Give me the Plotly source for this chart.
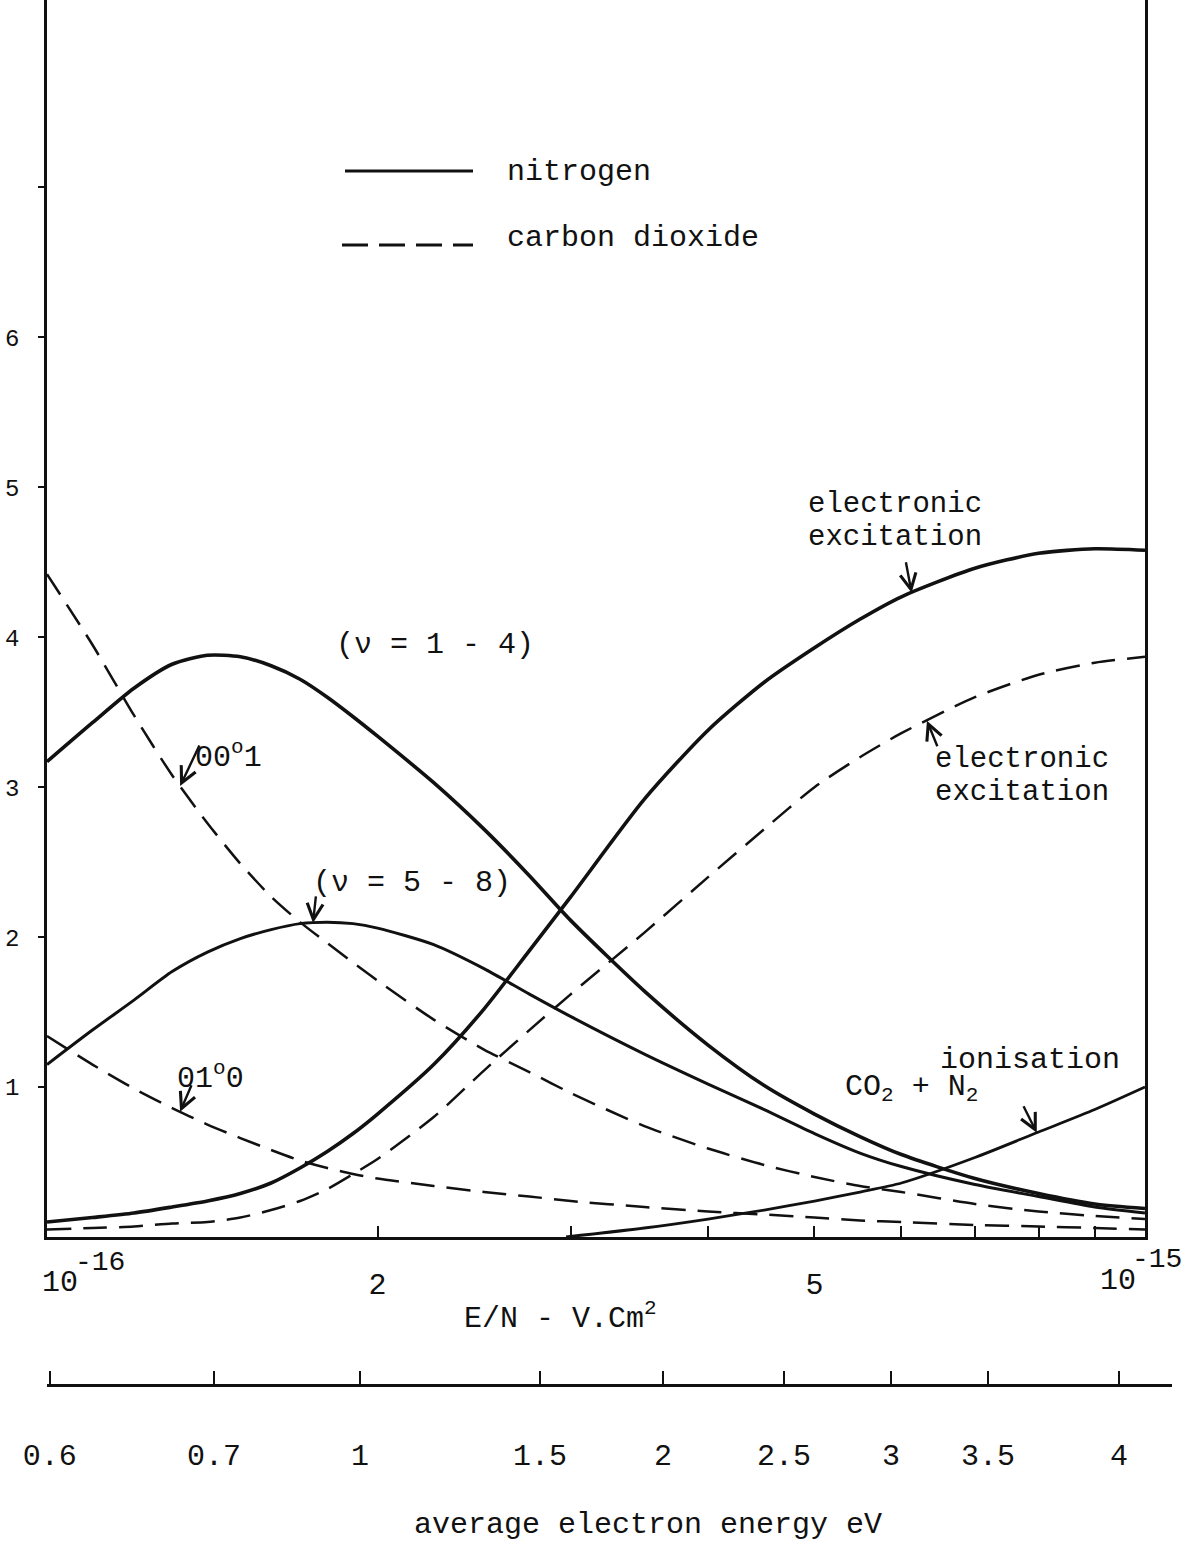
import math
import numpy as np
import plotly.graph_objects as go

# E/N values, in units of 1e-16 V.cm^2
EN = [1.0, 1.1, 1.2, 1.3, 1.4, 1.5, 1.6, 1.7, 1.8, 1.9, 2.0, 2.25, 2.5, 2.75,
      3.0, 3.5, 4.0, 4.5, 5.0, 5.5, 6.0, 7.0, 8.0, 9.0, 10.0]

# nitrogen (solid)
n2_v1_4 = [3.17, 3.43, 3.66, 3.82, 3.88, 3.87, 3.81, 3.72, 3.60, 3.47, 3.34, 3.03, 2.72, 2.41,
           2.11, 1.64, 1.28, 1.01, 0.82, 0.67, 0.55, 0.39, 0.29, 0.22, 0.19]
n2_v5_8 = [1.15, 1.38, 1.58, 1.77, 1.90, 1.99, 2.05, 2.09, 2.10, 2.09, 2.06, 1.95, 1.79, 1.62,
           1.47, 1.22, 1.02, 0.85, 0.69, 0.56, 0.47, 0.35, 0.27, 0.20, 0.16]
n2_elec = [0.10, 0.13, 0.16, 0.20, 0.24, 0.29, 0.36, 0.46, 0.57, 0.69, 0.82, 1.15, 1.52, 1.91,
           2.27, 2.92, 3.38, 3.70, 3.93, 4.12, 4.27, 4.46, 4.56, 4.59, 4.58]

# carbon dioxide (dashed)
co2_0001 = [4.42, 3.95, 3.48, 3.08, 2.76, 2.49, 2.27, 2.10, 1.96, 1.83, 1.71, 1.45, 1.25, 1.10,
            0.96, 0.74, 0.59, 0.48, 0.40, 0.34, 0.30, 0.22, 0.17, 0.14, 0.12]
co2_0110 = [1.34, 1.15, 0.99, 0.86, 0.75, 0.66, 0.58, 0.51, 0.46, 0.42, 0.39, 0.34, 0.30, 0.27,
            0.24, 0.20, 0.17, 0.15, 0.13, 0.11, 0.10, 0.08, 0.07, 0.06, 0.05]
co2_elec = [0.05, 0.06, 0.07, 0.09, 0.10, 0.13, 0.18, 0.24, 0.32, 0.42, 0.52, 0.80, 1.11, 1.38,
            1.62, 2.03, 2.40, 2.72, 3.00, 3.20, 3.36, 3.60, 3.75, 3.83, 3.87]

# ionisation CO2 + N2 (solid)
ion_EN = [2.97, 3.5, 4.0, 4.5, 5.0, 5.5, 6.0, 7.0, 8.0, 9.0, 10.0]
ion = [0.0, 0.06, 0.12, 0.18, 0.24, 0.30, 0.36, 0.53, 0.70, 0.85, 1.0]

# secondary scale: average electron energy (eV) vs E/N position (units 1e-16)
energy_labels = ["0.6", "0.7", "1", "1.5", "2", "2.5", "3", "3.5", "4"]
energy_EN = [1.006, 1.419, 1.928, 2.812, 3.639, 4.691, 5.870, 7.195, 9.469]

y_tickvals = [1, 2, 3, 4, 5, 6, 7]
y_ticktext = ["1", "2", "3", "4", "5", "6", ""]
x_minor = [2, 3, 4, 5, 6, 7, 8, 9]
x_minor_text = ["2", "", "", "5", "", "", "", ""]

SCALE = 1e-16
FONT = "Liberation Mono, Courier New, monospace"
BLACK = "#111111"

W, H = 1201, 1546
ML, MR = 47, 29
PW = W - ML - MR
XDOM = 1098 / PW
YBOT = 1237

fig = go.Figure()


def add_line(xs, ys, dash, width):
    fig.add_trace(go.Scatter(
        x=[v * SCALE for v in xs], y=ys, mode="lines",
        line=dict(color=BLACK, width=width, dash=dash, shape="spline", smoothing=0.7),
        showlegend=False, hoverinfo="skip"))


DASH = "24px,12px"
add_line(EN, n2_v1_4, "solid", 3.6)
add_line(EN, n2_v5_8, "solid", 3.0)
add_line(EN, n2_elec, "solid", 3.6)
add_line(EN, co2_0001, DASH, 2.5)
add_line(EN, co2_0110, DASH, 2.5)
add_line(EN, co2_elec, DASH, 2.5)
add_line(ion_EN, ion, "solid", 2.8)

# dummy trace to realise the energy axis
fig.add_trace(go.Scatter(x=[v * SCALE for v in energy_EN], y=[None] * len(energy_EN),
                         xaxis="x2", yaxis="y", mode="lines", showlegend=False,
                         hoverinfo="skip"))


def px(xp):
    return (xp - ML) / PW


def py(yp):
    return 1 - yp / H


ann = []


def text(t, xp, yp, xanchor="center", size=30):
    ann.append(dict(text=t, x=px(xp), y=py(yp), xref="paper", yref="paper",
                    xanchor=xanchor, yanchor="middle", showarrow=False,
                    font=dict(family=FONT, size=size, color=BLACK)))


def arrow(en, series_x, series_y, ax, ay):
    yv = float(np.interp(math.log10(en), np.log10(series_x), series_y))
    ann.append(dict(text="", x=math.log10(en * SCALE), y=yv, xref="x", yref="y",
                    showarrow=True, ax=ax, ay=ay, axref="pixel", ayref="pixel",
                    arrowhead=5, arrowsize=1.3, arrowwidth=2.4, arrowcolor=BLACK,
                    standoff=0, startstandoff=0))


# labels
text("(ν = 1 - 4)", 435, 645)
text("(ν = 5 - 8)", 412, 883)
text("00<sup>o</sup>1", 193, 755, "left")
text("01<sup>o</sup>0", 175, 1076, "left")
text("electronic", 895, 504, size=29)
text("excitation", 895, 537, size=29)
text("electronic", 1022, 759, size=29)
text("excitation", 1022, 792, size=29)
text("ionisation", 1030, 1060)
text("CO<sub>2</sub> + N<sub>2</sub>", 843, 1088, "left")
text("nitrogen", 505, 172, "left")
text("carbon dioxide", 505, 238, "left")
text("10", 40, 1283, "left")
text("-16", 73, 1262, "left", 28)
text("10", 1098, 1281, "left")
text("-15", 1130, 1259, "left", 28)
text("E/N - V.Cm<sup>2</sup>", 560, 1316)
text("average electron energy eV", 648, 1525)

# arrows
arrow(1.322, EN, co2_0001, 20, -42)
arrow(1.322, EN, co2_0110, 12, -28)
arrow(1.747, EN, n2_v5_8, 3, -28)
arrow(6.13, EN, n2_elec, -6, -32)
arrow(6.33, EN, co2_elec, 11, 27)
arrow(7.97, ion_EN, ion, -14, -28)

fig.update_layout(annotations=ann)

# legend keys
shapes = [
    dict(type="line", xref="paper", yref="paper", x0=px(345), x1=px(473), y0=py(171), y1=py(171),
         line=dict(color=BLACK, width=3)),
    dict(type="line", xref="paper", yref="paper", x0=px(342), x1=px(473), y0=py(245), y1=py(245),
         line=dict(color=BLACK, width=3, dash="26px,11px")),
]
fig.update_layout(shapes=shapes)

fig.update_layout(
    width=W, height=H,
    margin=dict(l=ML, r=MR, t=0, b=0, autoexpand=False),
    paper_bgcolor="white", plot_bgcolor="rgba(0,0,0,0)",
    showlegend=False,
    font=dict(family=FONT, size=30, color=BLACK),
    xaxis=dict(type="log", range=[-16, -15], domain=[0, XDOM], anchor="y",
               showgrid=False, zeroline=False, showline=True, linecolor=BLACK, linewidth=2.5,
               mirror=False, ticks="inside", ticklen=11, tickwidth=2, tickcolor=BLACK,
               tickvals=[v * SCALE for v in x_minor], ticktext=x_minor_text,
               tickfont=dict(family=FONT, size=30, color=BLACK), ticklabelstandoff=18),
    yaxis=dict(range=[0, 8.25], domain=[1 - YBOT / H, 1], anchor="x",
               showgrid=False, zeroline=False, showline=True, linecolor=BLACK, linewidth=2.5,
               mirror=True, ticks="outside", ticklen=6, tickwidth=2, tickcolor=BLACK,
               tickvals=y_tickvals, ticktext=y_ticktext,
               tickfont=dict(family=FONT, size=24, color=BLACK), ticklabelstandoff=14),
    xaxis2=dict(type="log", range=[-16, -16 + PW / 1098], domain=[0, 1], anchor="free",
                position=1 - 1385 / H,
                showgrid=False, zeroline=False, showline=True, linecolor=BLACK, linewidth=3,
                ticks="inside", ticklen=13, tickwidth=2, tickcolor=BLACK,
                tickvals=[v * SCALE for v in energy_EN], ticktext=energy_labels,
                tickfont=dict(family=FONT, size=30, color=BLACK), ticklabelstandoff=42),
)

fig.write_html("out.html", config={"displayModeBar": False},
               post_script="document.body.style.margin='0';")
